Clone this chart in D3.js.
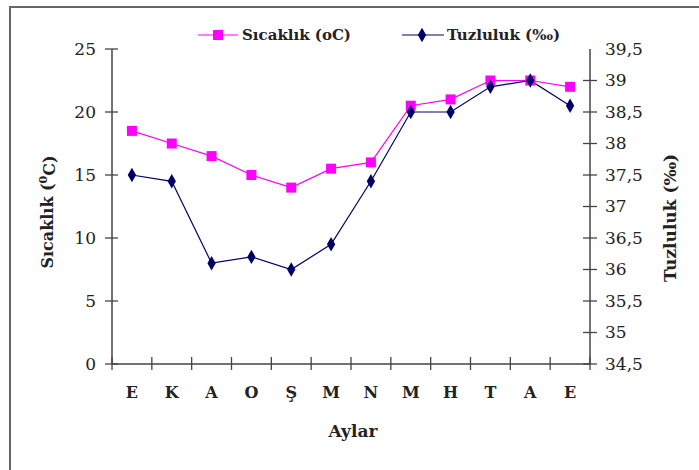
<!DOCTYPE html>
<html><head><meta charset="utf-8">
<script src="https://cdn.jsdelivr.net/npm/d3@7"></script>
<style>body{margin:0;background:#fff}svg{display:block}
svg text{font-family:"DejaVu Serif";}</style>
</head><body>
<svg id="c" width="699" height="470"></svg>
<script>
const months = ["E","K","A","O","Ş","M","N","M","H","T","A","E"];
const sicaklik = [18.5,17.5,16.5,15,14,15.5,16,20.5,21,22.5,22.5,22];
const tuzluluk = [37.5,37.4,36.1,36.2,36.0,36.4,37.4,38.5,38.5,38.9,39.0,38.6];
const leftTicks = [0,5,10,15,20,25];
const rightTicks = [34.5,35,35.5,36,36.5,37,37.5,38,38.5,39,39.5];
const seriesNames = ["Sıcaklık (oC)","Tuzluluk (‰)"];

const svg = d3.select("#c");
const L=112, R=590, T=49, B=364;
svg.append("rect").attr("x",10).attr("y",7).attr("width",720).attr("height",500)
  .attr("fill","#fff").attr("stroke","#666").attr("stroke-width",2);

const x = d3.scaleBand().domain(d3.range(months.length)).range([L,R]);
const yL = d3.scaleLinear().domain([0,25]).range([B,T]);
const yR = d3.scaleLinear().domain([34.5,39.5]).range([B,T]);
const ax = "#444";

svg.append("line").attr("x1",L).attr("x2",L).attr("y1",T).attr("y2",B).attr("stroke",ax).attr("stroke-width",1.5);
leftTicks.forEach(v=>{
  svg.append("line").attr("x1",L-7).attr("x2",L+6).attr("y1",yL(v)).attr("y2",yL(v)).attr("stroke",ax).attr("stroke-width",1.3);
  svg.append("text").attr("x",L-16).attr("y",yL(v)).attr("dy","0.35em").attr("text-anchor","end")
    .attr("font-size",17).attr("fill","#222").text(v);
});
svg.append("line").attr("x1",R).attr("x2",R).attr("y1",T).attr("y2",B).attr("stroke",ax).attr("stroke-width",1.5);
rightTicks.forEach(v=>{
  if (v<39.5) svg.append("line").attr("x1",R-7).attr("x2",R+7).attr("y1",yR(v)).attr("y2",yR(v)).attr("stroke",ax).attr("stroke-width",1.3);
  svg.append("text").attr("x",R+15).attr("y",yR(v)).attr("dy","0.35em").attr("text-anchor","start")
    .attr("font-size",17).attr("fill","#222").text(String(v).replace(".",","));
});
svg.append("line").attr("x1",L).attr("x2",R).attr("y1",B).attr("y2",B).attr("stroke",ax).attr("stroke-width",1.5);
d3.range(months.length+1).forEach(i=>{
  const xx = i<months.length ? x(i) : R;
  svg.append("line").attr("x1",xx).attr("x2",xx).attr("y1",B-7).attr("y2",B+6).attr("stroke",ax).attr("stroke-width",1.3);
});
months.forEach((m,i)=>{
  svg.append("text").attr("x",x(i)+x.bandwidth()/2).attr("y",392).attr("dy","0.35em").attr("text-anchor","middle")
    .attr("font-size",16).attr("font-weight","bold").attr("fill","#222").text(m);
});
svg.append("text").attr("x",353).attr("y",431).attr("dy","0.35em").attr("text-anchor","middle")
  .attr("font-size",17).attr("font-weight","bold").attr("fill","#222").text("Aylar");
const lt = svg.append("text").attr("transform","translate(47,212) rotate(-90)").attr("dy","0.35em").attr("text-anchor","middle")
  .attr("font-size",16).attr("font-weight","bold").attr("fill","#222");
lt.append("tspan").text("Sıcaklık (");
lt.append("tspan").attr("font-size",11).attr("dy","-0.5em").text("0");
lt.append("tspan").attr("dy","0.5em").text("C)");
svg.append("text").attr("transform","translate(670,218) rotate(-90)").attr("dy","0.35em").attr("text-anchor","middle")
  .attr("font-size",17).attr("font-weight","bold").attr("fill","#222").text("Tuzluluk (‰)");

const cx = i => x(i)+x.bandwidth()/2;
const pink="#ff00ff", navy="#000066";
svg.append("path").datum(sicaklik).attr("fill","none").attr("stroke",pink).attr("stroke-width",1.2)
  .attr("d",d3.line().x((d,i)=>cx(i)).y(d=>yL(d)));
svg.append("path").datum(tuzluluk).attr("fill","none").attr("stroke",navy).attr("stroke-width",1.2)
  .attr("d",d3.line().x((d,i)=>cx(i)).y(d=>yR(d)));
const sq = d3.symbol().type(d3.symbolSquare).size(100);
const dm = d3.symbol().type(d3.symbolDiamond).size(60);
svg.selectAll(".sq").data(sicaklik).join("path").attr("class","sq")
  .attr("transform",(d,i)=>`translate(${cx(i)},${yL(d)})`).attr("d",sq).attr("fill",pink);
svg.selectAll(".dm").data(tuzluluk).join("path").attr("class","dm")
  .attr("transform",(d,i)=>`translate(${cx(i)},${yR(d)})`).attr("d",dm).attr("fill",navy);

const ly = 35;
svg.append("line").attr("x1",198).attr("x2",238).attr("y1",ly).attr("y2",ly).attr("stroke",pink).attr("stroke-width",1.2);
svg.append("path").attr("transform",`translate(218,${ly})`).attr("d",sq).attr("fill",pink);
svg.append("text").attr("x",242).attr("y",ly).attr("dy","0.35em").attr("font-size",15)
  .attr("font-weight","bold").attr("fill","#222").text(seriesNames[0]);
svg.append("line").attr("x1",402).attr("x2",444).attr("y1",ly).attr("y2",ly).attr("stroke",navy).attr("stroke-width",1.2);
svg.append("path").attr("transform",`translate(422,${ly})`).attr("d",dm).attr("fill",navy);
svg.append("text").attr("x",447).attr("y",ly).attr("dy","0.35em").attr("font-size",15)
  .attr("font-weight","bold").attr("fill","#222").text(seriesNames[1]);
</script>
</body></html>
